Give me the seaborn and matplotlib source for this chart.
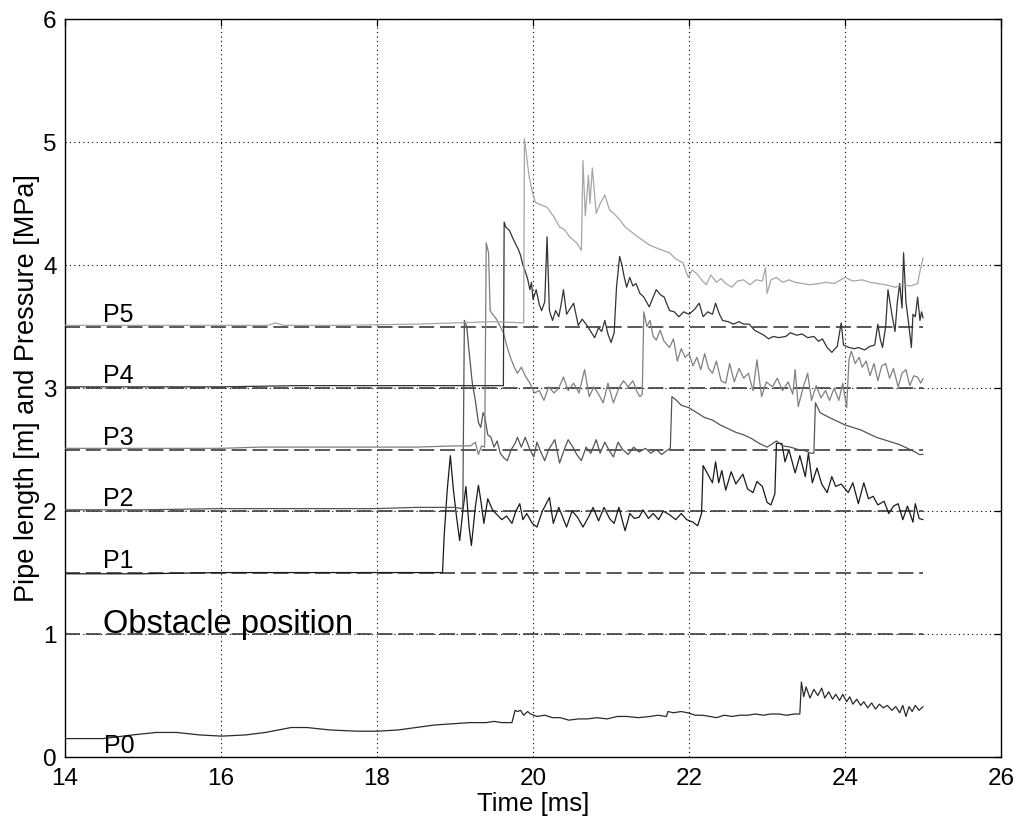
import pandas as pd
import matplotlib
matplotlib.use("Agg")
import matplotlib.pyplot as plt
import seaborn as sns

# --- Data (time in ms, value in MPa + sensor offset) ---
sensor_names = ["P0", "P1", "P2", "P3", "P4", "P5"]
sensor_levels = [1.0, 1.5, 2.0, 2.5, 3.0, 3.5]      # dashed pipe positions
level_labels = ["Obstacle position", "P1", "P2", "P3", "P4", "P5"]
line_start, line_end = 14.0, 25.0

p0_trace = [(14.0, 0.15), (14.23, 0.15), (14.49, 0.15), (14.87, 0.18), (15.17, 0.20),
            (15.43, 0.20), (15.72, 0.18), (16.01, 0.17), (16.32, 0.18), (16.57, 0.20),
            (16.9, 0.24), (17.1, 0.24), (17.4, 0.22), (17.75, 0.21), (18.0, 0.21),
            (18.27, 0.22), (18.73, 0.26), (19.19, 0.28), (19.4, 0.28), (19.5, 0.29),
            (19.6, 0.28), (19.73, 0.28), (19.77, 0.38), (19.8, 0.37), (19.84, 0.38),
            (19.88, 0.34), (19.93, 0.37), (19.97, 0.35), (20.05, 0.33), (20.15, 0.34),
            (20.25, 0.32), (20.35, 0.32), (20.46, 0.30), (20.58, 0.31), (20.7, 0.31),
            (20.82, 0.32), (20.95, 0.31), (21.08, 0.33), (21.2, 0.33), (21.35, 0.32),
            (21.5, 0.33), (21.6, 0.34), (21.71, 0.33), (21.73, 0.37), (21.8, 0.36),
            (21.9, 0.37), (21.98, 0.36), (22.08, 0.34), (22.17, 0.34), (22.27, 0.33),
            (22.35, 0.32), (22.45, 0.34), (22.55, 0.33), (22.65, 0.34), (22.75, 0.34),
            (22.85, 0.35), (22.95, 0.34), (23.05, 0.35), (23.15, 0.35), (23.25, 0.34),
            (23.35, 0.35), (23.42, 0.35), (23.44, 0.61), (23.47, 0.49), (23.5, 0.57),
            (23.55, 0.48), (23.6, 0.55), (23.65, 0.50), (23.7, 0.56), (23.74, 0.48),
            (23.79, 0.53), (23.84, 0.47), (23.88, 0.51), (23.93, 0.46), (23.97, 0.51),
            (24.02, 0.45), (24.06, 0.49), (24.1, 0.43), (24.15, 0.47), (24.2, 0.42),
            (24.24, 0.45), (24.29, 0.40), (24.34, 0.44), (24.39, 0.39), (24.44, 0.43),
            (24.49, 0.40), (24.54, 0.42), (24.6, 0.38), (24.65, 0.41), (24.7, 0.36),
            (24.74, 0.42), (24.78, 0.33), (24.82, 0.41), (24.86, 0.37), (24.9, 0.42),
            (24.95, 0.38), (25.0, 0.41)]

p1_trace = [(14.0, 1.49), (15.0, 1.49), (16.0, 1.50), (17.0, 1.50), (18.0, 1.50),
            (18.5, 1.50), (18.84, 1.50), (18.86, 1.79), (18.9, 2.17), (18.94, 2.45),
            (18.98, 2.17), (19.02, 1.95), (19.06, 1.76), (19.1, 2.00), (19.14, 2.20),
            (19.18, 1.87), (19.21, 1.72), (19.26, 2.03), (19.3, 2.21), (19.33, 2.09),
            (19.37, 1.90), (19.42, 2.10), (19.48, 2.01), (19.54, 1.97), (19.6, 1.93),
            (19.66, 1.96), (19.73, 1.90), (19.78, 2.00), (19.83, 2.06), (19.87, 1.93),
            (19.92, 1.98), (19.99, 1.90), (20.05, 1.87), (20.12, 2.00), (20.21, 2.11),
            (20.26, 1.90), (20.33, 2.03), (20.43, 1.87), (20.5, 2.00), (20.57, 1.95),
            (20.64, 1.87), (20.71, 1.95), (20.77, 2.03), (20.84, 1.92), (20.91, 2.03),
            (20.98, 1.94), (21.04, 1.90), (21.1, 2.03), (21.18, 1.84), (21.24, 1.98),
            (21.3, 1.94), (21.36, 1.95), (21.41, 2.01), (21.48, 1.94), (21.54, 1.98),
            (21.61, 1.93), (21.67, 2.00), (21.75, 1.97), (21.83, 1.93), (21.9, 1.98),
            (21.97, 1.93), (22.05, 1.91), (22.11, 1.88), (22.16, 1.98), (22.18, 2.37),
            (22.24, 2.30), (22.3, 2.23), (22.34, 2.40), (22.38, 2.23), (22.42, 2.33),
            (22.47, 2.17), (22.54, 2.32), (22.6, 2.22), (22.69, 2.30), (22.75, 2.18),
            (22.82, 2.15), (22.87, 2.24), (22.94, 2.20), (23.0, 2.07), (23.05, 2.05),
            (23.1, 2.14), (23.12, 2.55), (23.19, 2.55), (23.23, 2.40), (23.28, 2.50),
            (23.36, 2.31), (23.42, 2.45), (23.49, 2.28), (23.53, 2.47), (23.58, 2.23),
            (23.64, 2.35), (23.7, 2.22), (23.77, 2.15), (23.83, 2.28), (23.88, 2.20),
            (23.95, 2.22), (24.04, 2.15), (24.1, 2.23), (24.17, 2.06), (24.24, 2.23),
            (24.3, 2.10), (24.36, 2.12), (24.42, 2.05), (24.5, 2.08), (24.56, 1.98),
            (24.62, 2.04), (24.68, 2.06), (24.74, 1.93), (24.8, 2.04), (24.87, 1.91),
            (24.9, 2.06), (24.95, 1.94), (25.0, 1.93)]

p2_trace = [(14.0, 2.01), (15.0, 2.01), (16.0, 2.02), (17.0, 2.02), (18.0, 2.02),
            (18.5, 2.03), (18.8, 2.03), (19.0, 2.03), (19.1, 2.02), (19.12, 3.55),
            (19.15, 3.50), (19.18, 3.30), (19.22, 3.05), (19.26, 2.90), (19.3, 2.72),
            (19.33, 2.68), (19.36, 2.80), (19.38, 2.77), (19.42, 2.62), (19.46, 2.60),
            (19.5, 2.52), (19.54, 2.57), (19.58, 2.47), (19.63, 2.43), (19.67, 2.41),
            (19.72, 2.50), (19.77, 2.55), (19.8, 2.60), (19.85, 2.52), (19.9, 2.60),
            (19.96, 2.50), (20.01, 2.44), (20.05, 2.56), (20.1, 2.48), (20.15, 2.41),
            (20.2, 2.50), (20.28, 2.58), (20.34, 2.39), (20.4, 2.50), (20.45, 2.58),
            (20.51, 2.52), (20.56, 2.46), (20.62, 2.41), (20.68, 2.52), (20.74, 2.47),
            (20.81, 2.58), (20.86, 2.47), (20.92, 2.56), (20.97, 2.50), (21.03, 2.44),
            (21.09, 2.56), (21.15, 2.50), (21.22, 2.46), (21.29, 2.52), (21.36, 2.48),
            (21.44, 2.51), (21.51, 2.47), (21.58, 2.50), (21.65, 2.46), (21.71, 2.49),
            (21.76, 2.51), (21.78, 2.93), (21.84, 2.90), (21.9, 2.86), (22.0, 2.84),
            (22.1, 2.80), (22.2, 2.76), (22.3, 2.74), (22.4, 2.70), (22.5, 2.67),
            (22.6, 2.64), (22.7, 2.62), (22.8, 2.59), (22.9, 2.55), (23.0, 2.52),
            (23.05, 2.54), (23.12, 2.57), (23.2, 2.53), (23.3, 2.52), (23.4, 2.50),
            (23.49, 2.49), (23.56, 2.47), (23.6, 2.47), (23.62, 2.88), (23.68, 2.80),
            (23.74, 2.78), (23.8, 2.76), (23.9, 2.73), (24.0, 2.70), (24.1, 2.68),
            (24.2, 2.66), (24.3, 2.63), (24.4, 2.60), (24.5, 2.58), (24.6, 2.56),
            (24.7, 2.54), (24.8, 2.51), (24.9, 2.48), (24.95, 2.46), (25.0, 2.46)]

p3_trace = [(14.0, 2.51), (15.0, 2.51), (16.0, 2.51), (16.5, 2.52), (17.0, 2.52),
            (18.0, 2.52), (18.5, 2.52), (19.0, 2.53), (19.2, 2.53), (19.26, 2.56),
            (19.3, 2.46), (19.34, 2.53), (19.38, 2.52), (19.40, 4.18), (19.43, 4.10),
            (19.45, 3.63), (19.48, 3.60), (19.51, 3.58), (19.54, 3.55), (19.58, 3.50),
            (19.62, 3.45), (19.67, 3.33), (19.71, 3.25), (19.76, 3.17), (19.8, 3.12),
            (19.85, 3.17), (19.9, 3.10), (19.96, 3.04), (20.02, 2.96), (20.08, 2.98),
            (20.14, 2.90), (20.2, 3.01), (20.27, 2.96), (20.33, 3.00), (20.39, 3.09),
            (20.45, 2.98), (20.52, 3.04), (20.59, 2.96), (20.66, 3.15), (20.72, 2.93),
            (20.78, 3.01), (20.84, 2.95), (20.9, 2.88), (20.96, 3.04), (21.03, 2.88),
            (21.1, 3.00), (21.16, 3.06), (21.22, 3.01), (21.28, 3.06), (21.34, 2.96),
            (21.37, 2.93), (21.40, 2.95), (21.42, 3.62), (21.46, 3.50), (21.5, 3.55),
            (21.54, 3.42), (21.58, 3.39), (21.63, 3.47), (21.68, 3.38), (21.75, 3.33),
            (21.8, 3.40), (21.85, 3.22), (21.9, 3.32), (21.95, 3.25), (22.0, 3.28),
            (22.05, 3.18), (22.1, 3.25), (22.15, 3.15), (22.2, 3.28), (22.25, 3.16),
            (22.3, 3.12), (22.35, 3.22), (22.41, 3.06), (22.47, 3.04), (22.52, 3.20),
            (22.58, 3.05), (22.64, 3.16), (22.7, 3.08), (22.76, 3.12), (22.82, 2.98),
            (22.87, 3.23), (22.93, 2.93), (22.99, 3.05), (23.07, 3.01), (23.13, 3.08),
            (23.2, 2.98), (23.27, 3.05), (23.33, 2.95), (23.36, 3.15), (23.4, 2.85),
            (23.46, 3.00), (23.52, 3.12), (23.57, 2.90), (23.63, 3.02), (23.69, 2.92),
            (23.75, 2.98), (23.8, 2.90), (23.86, 3.00), (23.92, 2.90), (23.97, 3.04),
            (24.02, 2.84), (24.05, 3.23), (24.08, 3.30), (24.13, 3.20), (24.18, 3.25),
            (24.22, 3.17), (24.27, 3.22), (24.32, 3.10), (24.37, 3.20), (24.42, 3.06),
            (24.47, 3.18), (24.52, 3.20), (24.57, 3.08), (24.62, 3.16), (24.68, 3.01),
            (24.73, 3.12), (24.78, 3.15), (24.83, 3.02), (24.88, 3.10), (24.93, 3.09),
            (24.97, 3.04), (25.0, 3.08)]

p4_trace = [(14.0, 3.01), (15.0, 3.01), (16.0, 3.01), (17.0, 3.02), (18.0, 3.02),
            (19.0, 3.02), (19.62, 3.02), (19.63, 4.35), (19.65, 4.31), (19.7, 4.28),
            (19.74, 4.22), (19.77, 4.18), (19.81, 4.13), (19.84, 4.08), (19.87, 4.00),
            (19.9, 3.95), (19.93, 3.89), (19.96, 3.80), (19.98, 3.86), (20.0, 3.72),
            (20.04, 3.80), (20.08, 3.68), (20.11, 3.63), (20.15, 3.70), (20.18, 4.23),
            (20.21, 3.63), (20.25, 3.55), (20.29, 3.63), (20.33, 3.58), (20.36, 3.68),
            (20.39, 3.80), (20.43, 3.60), (20.48, 3.65), (20.52, 3.69), (20.58, 3.51),
            (20.63, 3.56), (20.68, 3.52), (20.73, 3.47), (20.79, 3.41), (20.84, 3.49),
            (20.88, 3.46), (20.92, 3.55), (20.96, 3.44), (21.0, 3.37), (21.04, 3.45),
            (21.07, 3.82), (21.11, 4.07), (21.14, 4.00), (21.17, 3.90), (21.2, 3.82),
            (21.24, 3.90), (21.28, 3.83), (21.32, 3.85), (21.37, 3.77), (21.42, 3.74),
            (21.49, 3.66), (21.54, 3.74), (21.58, 3.80), (21.63, 3.76), (21.68, 3.74),
            (21.75, 3.63), (21.81, 3.62), (21.87, 3.58), (21.93, 3.62), (22.0, 3.60),
            (22.07, 3.64), (22.13, 3.69), (22.18, 3.58), (22.24, 3.62), (22.3, 3.60),
            (22.34, 3.69), (22.39, 3.60), (22.43, 3.55), (22.5, 3.54), (22.57, 3.52),
            (22.64, 3.54), (22.7, 3.52), (22.77, 3.52), (22.84, 3.47), (22.9, 3.45),
            (22.96, 3.43), (23.02, 3.40), (23.08, 3.42), (23.15, 3.41), (23.24, 3.42),
            (23.3, 3.45), (23.38, 3.43), (23.45, 3.44), (23.52, 3.41), (23.6, 3.42),
            (23.66, 3.38), (23.71, 3.40), (23.77, 3.33), (23.83, 3.29), (23.9, 3.34),
            (23.95, 3.53), (23.98, 3.35), (24.05, 3.33), (24.12, 3.32), (24.17, 3.33),
            (24.25, 3.31), (24.32, 3.34), (24.38, 3.35), (24.42, 3.52), (24.45, 3.40),
            (24.48, 3.33), (24.52, 3.50), (24.55, 3.80), (24.6, 3.60), (24.64, 3.46),
            (24.67, 3.70), (24.7, 3.85), (24.73, 3.65), (24.75, 4.10), (24.78, 3.70),
            (24.81, 3.55), (24.85, 3.33), (24.87, 3.60), (24.9, 3.58), (24.93, 3.74),
            (24.96, 3.55), (24.98, 3.62), (25.0, 3.57)]

p5_trace = [(14.0, 3.51), (15.0, 3.51), (16.0, 3.51), (16.6, 3.51), (16.7, 3.53),
            (16.8, 3.51), (17.5, 3.51), (18.5, 3.52), (19.0, 3.53), (19.5, 3.54),
            (19.88, 3.53), (19.89, 5.03), (19.95, 4.72), (19.99, 4.60), (20.03, 4.51),
            (20.1, 4.49), (20.18, 4.47), (20.27, 4.39), (20.34, 4.31), (20.4, 4.29),
            (20.47, 4.23), (20.56, 4.18), (20.62, 4.12), (20.64, 4.85), (20.67, 4.40),
            (20.71, 4.73), (20.73, 4.50), (20.76, 4.79), (20.81, 4.42), (20.86, 4.50),
            (20.92, 4.57), (20.98, 4.45), (21.05, 4.41), (21.11, 4.37), (21.18, 4.31),
            (21.24, 4.28), (21.32, 4.24), (21.41, 4.20), (21.5, 4.16), (21.58, 4.14),
            (21.66, 4.12), (21.75, 4.10), (21.83, 4.05), (21.92, 4.02), (21.96, 3.95),
            (21.99, 3.90), (22.04, 3.96), (22.1, 3.93), (22.16, 3.88), (22.22, 3.84),
            (22.28, 3.92), (22.35, 3.86), (22.41, 3.89), (22.47, 3.85), (22.55, 3.82),
            (22.62, 3.87), (22.7, 3.88), (22.78, 3.84), (22.86, 3.88), (22.94, 3.87),
            (22.98, 3.98), (23.0, 3.77), (23.05, 3.88), (23.12, 3.90), (23.2, 3.86),
            (23.28, 3.88), (23.36, 3.86), (23.45, 3.85), (23.55, 3.84), (23.66, 3.85),
            (23.76, 3.86), (23.86, 3.85), (24.0, 3.90), (24.1, 3.87), (24.22, 3.88),
            (24.32, 3.86), (24.42, 3.85), (24.52, 3.84), (24.64, 3.82), (24.74, 3.84),
            (24.84, 3.83), (24.93, 3.85), (24.96, 3.95), (25.0, 4.06)]

traces = [p0_trace, p1_trace, p2_trace, p3_trace, p4_trace, p5_trace]
trace_colors = ["#2a2a2a", "#1a1a1a", "#555555", "#808080", "#333333", "#a6a6a6"]

# long-form table for seaborn
frames = []
for name, tr in zip(sensor_names, traces):
    frames.append(pd.DataFrame({"time": [p[0] for p in tr],
                                "value": [p[1] for p in tr],
                                "sensor": name}))
df = pd.concat(frames, ignore_index=True)

# --- Style ---
sns.set_theme(style="white")
plt.rcParams["font.family"] = ["Liberation Sans", "DejaVu Sans"]
plt.rcParams["text.color"] = "black"
plt.rcParams["axes.labelcolor"] = "black"

fig, ax = plt.subplots(figsize=(10.31, 8.31), dpi=100)
fig.subplots_adjust(left=0.063, right=0.971, bottom=0.089, top=0.977)

# dashed sensor / obstacle positions
ax.hlines(sensor_levels, line_start, line_end, colors="#3c3c3c",
          linestyles=(0, (9, 3.5)), linewidth=1.2, zorder=2)

sns.lineplot(data=df, x="time", y="value", hue="sensor",
             palette=dict(zip(sensor_names, trace_colors)),
             estimator=None, sort=False, legend=False,
             linewidth=0.9, ax=ax, zorder=3)

# labels next to the lines
for lvl, lab in zip(sensor_levels, level_labels):
    big = lab == "Obstacle position"
    ax.text(14.49, lvl + (0.01 if big else 0.04), lab,
            fontsize=23.5 if big else 18, va="baseline", ha="left", color="black")
ax.text(14.5, 0.03, "P0", fontsize=18, va="baseline", ha="left", color="black")

ax.set_xlim(14, 26)
ax.set_ylim(0, 6)
ax.set_xticks(range(14, 27, 2))
ax.set_yticks(range(0, 7))
ax.grid(True, color="black", linestyle=(0, (1, 3)), linewidth=0.8)
ax.set_axisbelow(True)

for s in ax.spines.values():
    s.set_visible(True)
    s.set_color("black")
    s.set_linewidth(1.0)
ax.tick_params(direction="in", top=True, right=True, length=5, width=0.9,
               labelsize=17.5, colors="black")
ax.tick_params(axis="x", pad=8)
ax.tick_params(axis="y", pad=6)

ax.set_xlabel("Time [ms]", fontsize=18.5, labelpad=1)
ax.set_ylabel("Pipe length [m] and Pressure [MPa]", fontsize=19.5, labelpad=2)

plt.savefig("out.png", dpi=100)
plt.close()
